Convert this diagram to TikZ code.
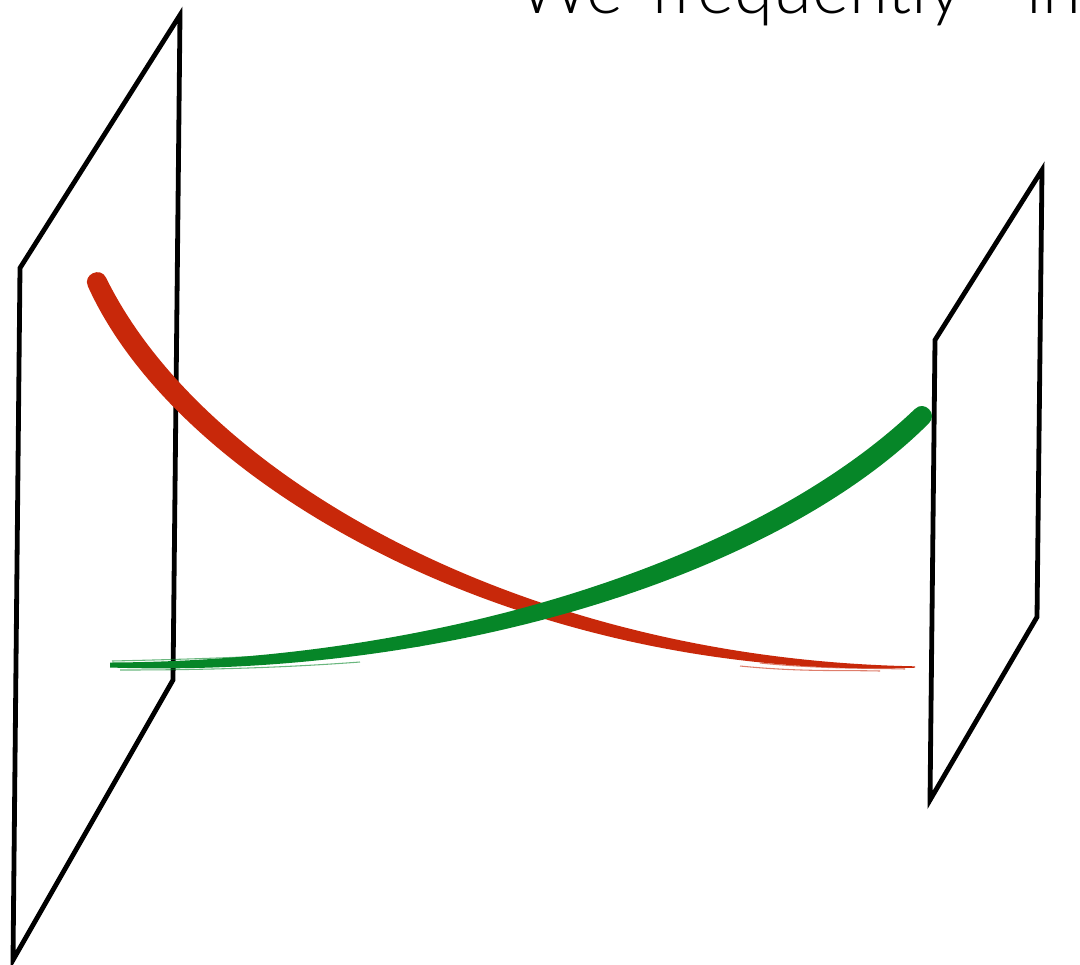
\documentclass[tikz,border=0pt]{standalone}
\usepackage{fontspec}
\newfontfamily\titlefont{Lato Light}
\definecolor{brushred}{RGB}{200,40,10}
\definecolor{brushgreen}{RGB}{6,134,40}
\tikzset{
  plane/.style={draw=black, line width=3.6pt, line join=miter},
  redbrush/.style={fill=brushred, draw=none},
  greenbrush/.style={fill=brushgreen, draw=none},
  streak/.style={line width=0.8pt, opacity=0.6}
}
\begin{document}
\begin{tikzpicture}[x=0.75pt,y=-0.75pt]
\clip (0,0) rectangle (1080,964);
\useasboundingbox (0,0) rectangle (1080,964);
% title (cut off at the top)
\node[anchor=base west, inner sep=0pt, font=\titlefont\fontsize{53}{60}\selectfont] (title) at (518,13) {\makebox[99pt][l]{We}\makebox[282pt][l]{frequently}in};
% left plane
\draw[plane] (180,15) -- (20,268) -- (13,960) -- (173,680) -- cycle;
% right plane
\draw[plane] (1042,170) -- (935,340) -- (930,800) -- (1037,617) -- cycle;
% red brush stroke
\fill[redbrush] (106.1,277.8) .. controls (202.2,474.3) and (519.9,659) .. (915,666.3)
  -- (915,667.7) .. controls (520.1,681) and (177.8,485.7) .. (87.9,286.3)
  .. controls (82.4,274.5) and (100.6,266) .. (106.1,277.8) -- cycle;
\draw[streak, brushred] (760,663) .. controls (820,669) and (870,668) .. (905,669);
\draw[streak, brushred] (740,666) .. controls (800,672) and (840,670) .. (880,671);
% green brush stroke
\fill[greenbrush] (110,662.5) .. controls (450.1,661) and (761.3,556.1) .. (915,408.9)
  .. controls (924.3,399.8) and (938.3,414) .. (929,423.1)
  .. controls (778.8,573.9) and (449.9,679) .. (110,667.5) -- cycle;
\draw[streak, brushgreen] (112,661) .. controls (200,659) and (300,656) .. (420,646);
\draw[streak, brushgreen] (120,670) .. controls (200,670) and (280,668) .. (360,662);
\end{tikzpicture}
\end{document}
